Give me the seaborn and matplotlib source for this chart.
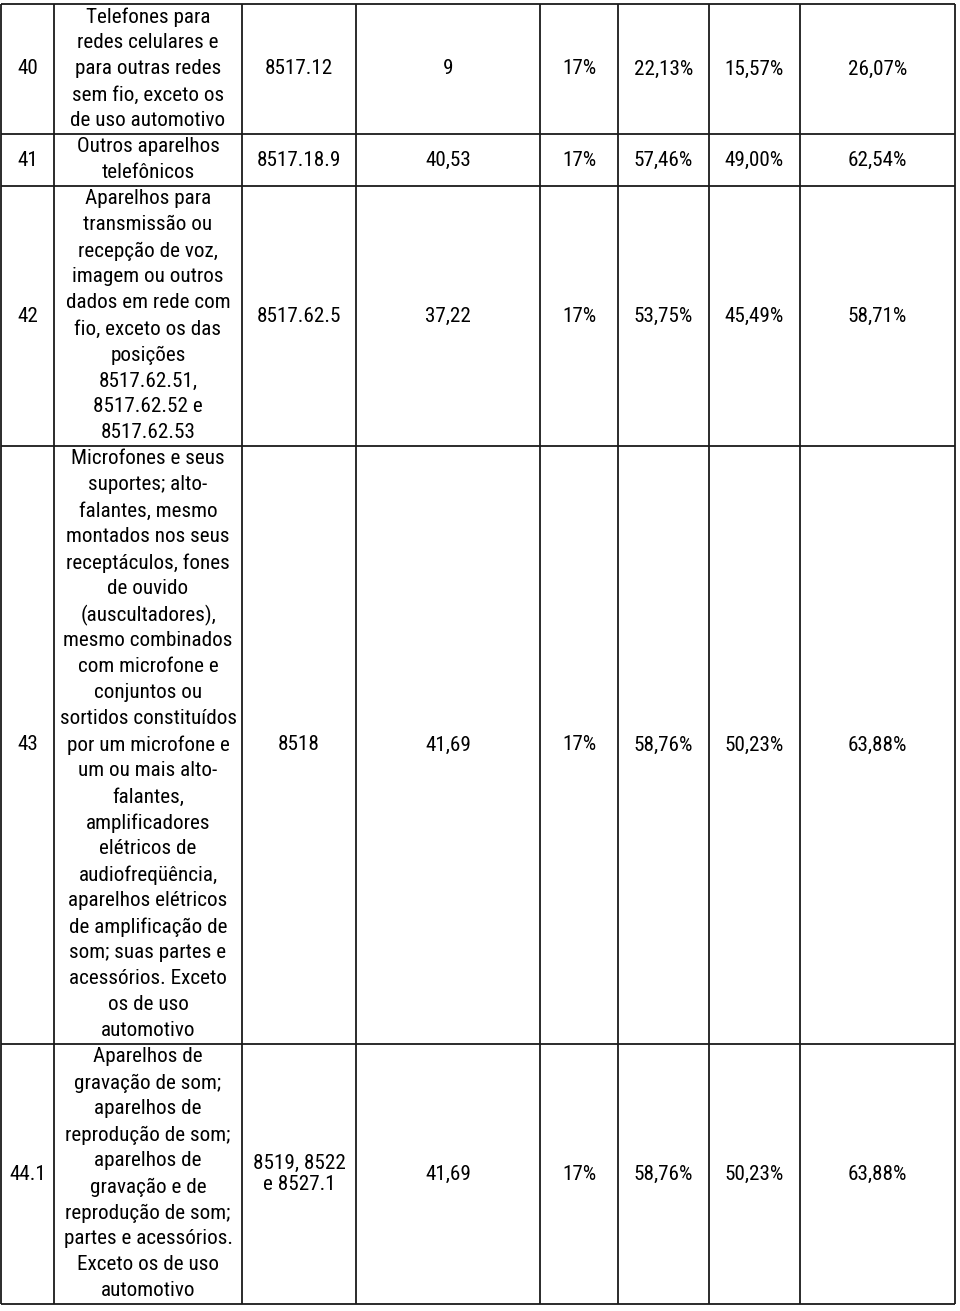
import matplotlib.pyplot as plt
import seaborn as sns

# table content
item_ids = ['40', '41', '42', '43', '44.1']
descriptions = [
    ['Telefones para', 'redes celulares e', 'para outras redes', 'sem fio, exceto os',
     'de uso automotivo'],
    ['Outros aparelhos', 'telefônicos'],
    ['Aparelhos para', 'transmissão ou', 'recepção de voz,', 'imagem ou outros',
     'dados em rede com', 'fio, exceto os das', 'posições', '8517.62.51,',
     '8517.62.52 e', '8517.62.53'],
    ['Microfones e seus', 'suportes; alto-', 'falantes, mesmo', 'montados nos seus',
     'receptáculos, fones', 'de ouvido', '(auscultadores),', 'mesmo combinados',
     'com microfone e', 'conjuntos ou', 'sortidos constituídos', 'por um microfone e',
     'um ou mais alto-', 'falantes,', 'amplificadores', 'elétricos de',
     'audiofreqüência,', 'aparelhos elétricos', 'de amplificação de',
     'som; suas partes e', 'acessórios. Exceto', 'os de uso', 'automotivo'],
    ['Aparelhos de', 'gravação de som;', 'aparelhos de', 'reprodução de som;',
     'aparelhos de', 'gravação e de', 'reprodução de som;', 'partes e acessórios.',
     'Exceto os de uso', 'automotivo'],
]
ncm_codes = ['8517.12', '8517.18.9', '8517.62.5', '8518', '8519, 8522\ne 8527.1']
values = ['9', '40,53', '37,22', '41,69', '41,69']
rates = ['17%', '17%', '17%', '17%', '17%']
pct_a = ['22,13%', '57,46%', '53,75%', '58,76%', '58,76%']
pct_b = ['15,57%', '49,00%', '45,49%', '50,23%', '50,23%']
pct_c = ['26,07%', '62,54%', '58,71%', '63,88%', '63,88%']

sns.set_style('white')
plt.rcParams['font.family'] = ['Roboto Condensed', 'Liberation Sans', 'DejaVu Sans']

col_edges = [1, 54, 242, 356, 540, 618, 709, 800, 955]
top, line_h = 4, 26

fig = plt.figure(figsize=(9.6, 13.11), dpi=100)
ax = fig.add_axes([0, 0, 1, 1])
ax.set_xlim(0, 960)
ax.set_ylim(1311, 0)
ax.axis('off')

row_edges = [top]
for d in descriptions:
    row_edges.append(row_edges[-1] + line_h * len(d))

ax.hlines(row_edges, col_edges[0], col_edges[-1], color='#1a1a1a', lw=1.3)
ax.vlines(col_edges, row_edges[0], row_edges[-1], color='#1a1a1a', lw=1.3)

centers = [(a + b) / 2 for a, b in zip(col_edges[:-1], col_edges[1:])]
fs = 15.2
for i, d in enumerate(descriptions):
    y0, y1 = row_edges[i], row_edges[i + 1]
    ym = (y0 + y1) / 2
    ax.text(centers[0], ym, item_ids[i], ha='center', va='center', fontsize=fs,
            color='black')
    for k, line in enumerate(d):
        ax.text(centers[1], y0 + line_h * (k + 0.5), line, ha='center', va='center',
                fontsize=fs, color='black')
    cells = [ncm_codes[i], values[i], rates[i], pct_a[i], pct_b[i], pct_c[i]]
    for j, txt in enumerate(cells):
        ax.text(centers[j + 2], ym, txt, ha='center', va='center', fontsize=fs,
                color='black', linespacing=1.2)

fig.savefig('out.png', dpi=100)
